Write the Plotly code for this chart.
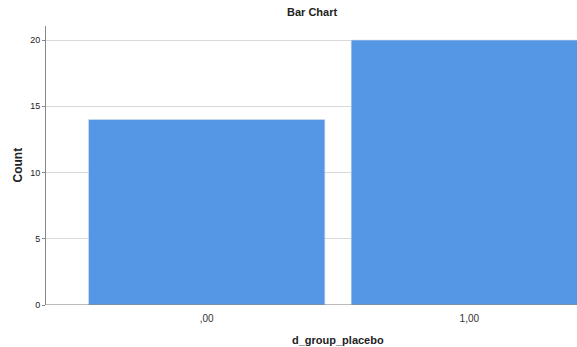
import plotly.graph_objects as go

categories = [",00", "1,00"]
counts = [14, 20]
y_ticks = [0, 5, 10, 15, 20]

fig = go.Figure()
fig.add_trace(go.Bar(
    x=[0, 1], y=counts, width=0.9,
    marker=dict(color="#5596E5", line=dict(color="#d6e2ef", width=0.6)),
    hoverinfo="skip",
))

fig.update_layout(
    width=577, height=347,
    margin=dict(l=46, r=0, t=26, b=42),
    paper_bgcolor="white", plot_bgcolor="white",
    font=dict(family="Liberation Sans, Arial, sans-serif", size=9, color="#222"),
    showlegend=False,
    xaxis=dict(
        range=[-0.612, 1.41], tickmode="array", tickvals=[0, 1], ticktext=categories,
        showgrid=False, zeroline=False, showline=False, ticks="",
        ticklabelstandoff=6,
        tickfont=dict(size=10, color="#333"),
    ),
    yaxis=dict(
        range=[0, 21.06], tickvals=y_ticks,
        showgrid=True, gridcolor="#d9d9d9", gridwidth=1,
        zeroline=False, showline=True, linecolor="#888", linewidth=1,
        ticks="outside", ticklen=3, tickcolor="#888",
        tickfont=dict(size=9, color="#222"),
    ),
    shapes=[dict(type="line", xref="paper", yref="y", x0=0, x1=1, y0=0, y1=0,
                 line=dict(color="#777", width=1))],
    annotations=[
        dict(text="<b>Bar Chart</b>", xref="paper", yref="paper", x=0.5, y=1,
             yshift=14, yanchor="middle", showarrow=False, font=dict(size=11, color="#222")),
        dict(text="<b>Count</b>", xref="paper", yref="paper", x=0, xshift=-29, y=0.5,
             textangle=-90, xanchor="center", showarrow=False, font=dict(size=12, color="#222")),
        dict(text="<b>d_group_placebo</b>", x=0.5, xref="x", yref="paper", y=0,
             yshift=-35, yanchor="middle", showarrow=False, font=dict(size=11, color="#222")),
    ],
)

fig.write_html(
    "out.html",
    config={"displayModeBar": False},
    post_script="document.body.style.margin='0';document.body.style.overflow='hidden';",
)
